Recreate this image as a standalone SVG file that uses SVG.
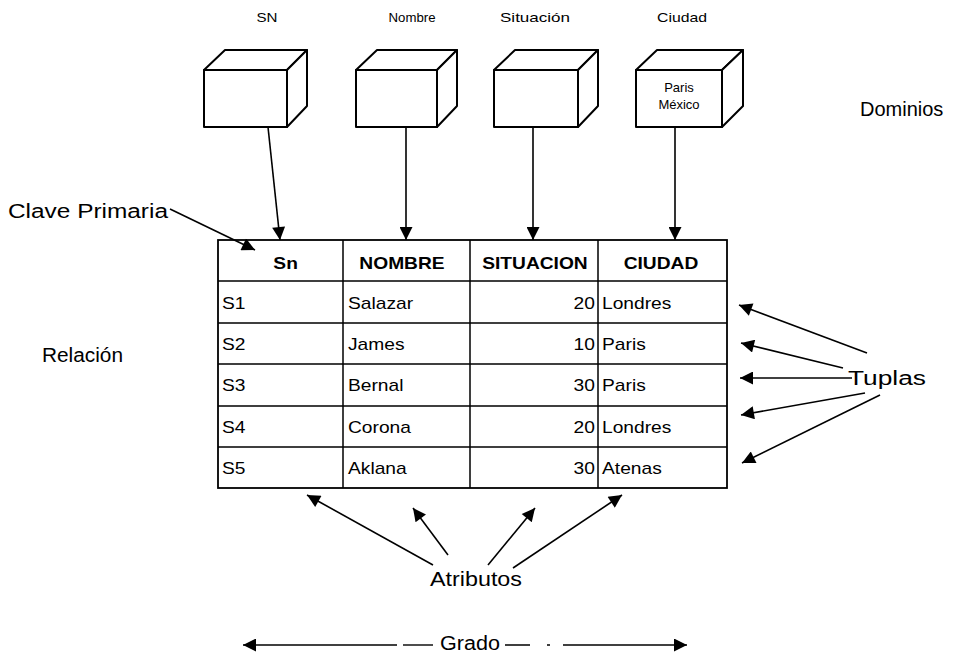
<svg xmlns="http://www.w3.org/2000/svg" width="972" height="655" viewBox="0 0 972 655">
<style>
text{font-family:"Liberation Sans",Arial,sans-serif;fill:#000}
.lbl{font-size:13px;text-anchor:middle}
.big{font-size:20px}
.hd{font-size:16px;font-weight:bold;text-anchor:middle}
.cell{font-size:16px}
.num{font-size:16px;text-anchor:end}
.cube{fill:#fff;stroke:#000;stroke-width:2;stroke-linejoin:round}
.grid{fill:none;stroke:#000;stroke-width:1.5}
.arr{fill:none;stroke:#000;stroke-width:1.6;marker-end:url(#ah)}
.ln{fill:none;stroke:#000;stroke-width:1.4}
</style>
<defs>
<marker id="ah" viewBox="0 0 10 10" refX="10" refY="5" markerWidth="16" markerHeight="13" markerUnits="userSpaceOnUse" orient="auto">
<path d="M0,0 L10,5 L0,10 z" fill="#000"/>
</marker>
</defs>
<rect width="972" height="655" fill="#fff"/>

<g id="dom-sn">
<text class="lbl" x="267" y="22" textLength="21" lengthAdjust="spacingAndGlyphs">SN</text>
<path class="cube" d="M204,70 L225,50 L307,50 L287,70 Z"/>
<path class="cube" d="M287,70 L307,50 L307,106 L287,127 Z"/>
<rect class="cube" x="204" y="70" width="83" height="57"/>
</g>
<g id="dom-nombre">
<text class="lbl" x="412" y="22" textLength="47" lengthAdjust="spacingAndGlyphs">Nombre</text>
<path class="cube" d="M356,70 L377,50 L457,50 L437,70 Z"/>
<path class="cube" d="M437,70 L457,50 L457,106 L437,127 Z"/>
<rect class="cube" x="356" y="70" width="81" height="57"/>
</g>
<g id="dom-situacion">
<text class="lbl" x="535" y="22" textLength="70" lengthAdjust="spacingAndGlyphs">Situación</text>
<path class="cube" d="M494,70 L515,50 L598,50 L578,70 Z"/>
<path class="cube" d="M578,70 L598,50 L598,106 L578,127 Z"/>
<rect class="cube" x="494" y="70" width="84" height="57"/>
</g>
<g id="dom-ciudad">
<text class="lbl" x="682" y="22" textLength="50" lengthAdjust="spacingAndGlyphs">Ciudad</text>
<path class="cube" d="M636,70 L657,50 L743,50 L722,70 Z"/>
<path class="cube" d="M722,70 L743,50 L743,106 L722,127 Z"/>
<rect class="cube" x="636" y="70" width="86" height="57"/>
<text class="lbl" x="679" y="92" font-size="12">Paris</text>
<text class="lbl" x="679" y="109" font-size="12">México</text>
</g>

<g id="label-dominios"><text class="big" x="860" y="116">Dominios</text></g>
<g id="label-clave"><text class="big" x="8" y="218" textLength="160" lengthAdjust="spacingAndGlyphs">Clave Primaria</text></g>
<g id="label-relacion"><text class="big" x="42" y="362" textLength="81" lengthAdjust="spacingAndGlyphs">Relación</text></g>
<g id="label-tuplas"><text class="big" x="848" y="385" font-size="22" textLength="78" lengthAdjust="spacingAndGlyphs">Tuplas</text></g>
<g id="label-atributos"><text class="big" x="430" y="586" font-size="22" textLength="92" lengthAdjust="spacingAndGlyphs">Atributos</text></g>
<g id="label-grado"><text class="big" x="440" y="650" font-size="21" textLength="60" lengthAdjust="spacingAndGlyphs">Grado</text></g>

<g id="relacion-tabla">
<rect x="218" y="240" width="509" height="248" fill="#fff" stroke="#000" stroke-width="1.8"/>
<path class="grid" d="M343,240 V488 M470,240 V488 M598,240 V488 M218,281 H727 M218,323 H727 M218,364 H727 M218,406 H727 M218,447 H727"/>
<g transform="scale(1.2,1)">
<text class="hd" x="238" y="269">Sn</text>
<text class="hd" x="335" y="269">NOMBRE</text>
<text class="hd" x="445.8" y="269">SITUACION</text>
<text class="hd" x="550.8" y="269">CIUDAD</text>
<text class="cell" x="185" y="309">S1</text>
<text class="cell" x="290" y="309">Salazar</text>
<text class="num" x="495.8" y="309">20</text>
<text class="cell" x="501.7" y="309">Londres</text>
<text class="cell" x="185" y="350">S2</text>
<text class="cell" x="290" y="350">James</text>
<text class="num" x="495.8" y="350">10</text>
<text class="cell" x="501.7" y="350">Paris</text>
<text class="cell" x="185" y="391">S3</text>
<text class="cell" x="290" y="391">Bernal</text>
<text class="num" x="495.8" y="391">30</text>
<text class="cell" x="501.7" y="391">Paris</text>
<text class="cell" x="185" y="433">S4</text>
<text class="cell" x="290" y="433">Corona</text>
<text class="num" x="495.8" y="433">20</text>
<text class="cell" x="501.7" y="433">Londres</text>
<text class="cell" x="185" y="474">S5</text>
<text class="cell" x="290" y="474">Aklana</text>
<text class="num" x="495.8" y="474">30</text>
<text class="cell" x="501.7" y="474">Atenas</text>
</g>
</g>

<g id="connectors">
<path class="arr" d="M268,127 L280,240"/>
<path class="arr" d="M406,127 L406,240"/>
<path class="arr" d="M533,127 L533,240"/>
<path class="arr" d="M675,127 L675,240"/>
<path class="arr" d="M170,209 L255,250"/>
<path class="arr" d="M867,353 L739,305"/>
<path class="arr" d="M843,368 L741,343"/>
<path class="arr" d="M852,378 L740,378"/>
<path class="arr" d="M865,393 L741,415"/>
<path class="arr" d="M880,395 L742,463"/>
<path class="arr" d="M433,565 L307,495"/>
<path class="arr" d="M448,555 L413,508"/>
<path class="arr" d="M488,565 L535,508"/>
<path class="arr" d="M513,568 L622,495"/>
<path class="ln" d="M397,645 L243,645" marker-end="url(#ah)"/>
<path class="ln" d="M403,645 L433,645"/>
<path class="ln" d="M505,645 L530,645 M547,645 L550,645"/>
<path class="ln" d="M563,645 L687,645" marker-end="url(#ah)"/>
</g>
</svg>
